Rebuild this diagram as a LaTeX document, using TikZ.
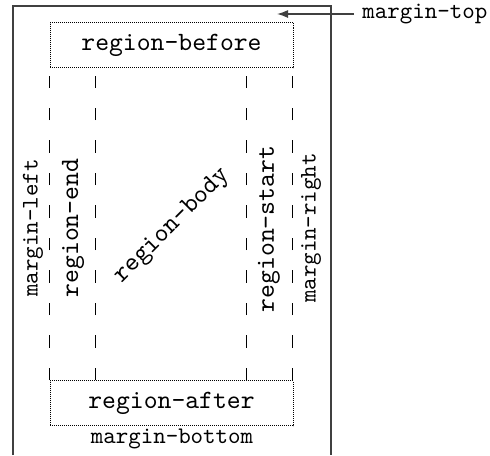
\documentclass[tikz,border=0pt]{standalone}
\usepackage{fontspec}
\setmonofont{lmmono10-regular.otf}
\usetikzlibrary{arrows.meta,calc}
\begin{document}
\begin{tikzpicture}[x=0.5pt,y=-0.5pt,
  regfont/.style={font=\fontsize{13.2}{15}\selectfont\ttfamily},
  marfont/.style={font=\fontsize{11.9}{14}\selectfont\ttfamily},
  regbox/.style={draw, line width=0.45pt, dash pattern=on 0.5pt off 0.5pt, minimum width=121.5pt, minimum height=22.5pt, inner sep=0pt, regfont},
  divider/.style={line width=0.5pt, dash pattern=on 6.25pt off 10pt},
  frame/.style={line width=0.6pt, draw=black!75},
  lbl/.style={inner sep=0pt}]
\useasboundingbox (0,0) rectangle (490,455);
% page frame
\coordinate (bl) at (13,455);
\coordinate (tl) at (13,6);
\coordinate (tr) at (331,6);
\coordinate (br) at (331,455);
\draw[frame] (bl) -- (tl) -- (tr) -- (br);
% regions
\node[regbox] (rb) at (171.5,45) {region-before};
\node[regbox] (ra) at (171.5,403) {region-after};
% dividers
\foreach \dx in {0,46,197,243} {
  \draw[divider] ($(ra.north west)+(\dx,0)$) -- ($(rb.south west)+(\dx,8)$);
}
% labels
\node[lbl, marfont, rotate=90] (ml) at (33,228) {margin-left};
\node[lbl, regfont, rotate=90] (re) at (73,228) {region-end};
\node[lbl, regfont, rotate=45] (rbody) at (172,226) {region-body};
\node[lbl, regfont, rotate=90] (rs) at (269,229) {region-start};
\node[lbl, marfont, rotate=90] (mr) at (311,228) {margin-right};
\node[lbl, marfont] (mb) at (172,439) {margin-bottom};
\node[lbl, marfont, anchor=west] (mt) at (362,14) {margin-top};
\coordinate (mtend) at (277,14);
\draw[frame, line width=0.7pt, -{Latex[length=5.5pt,width=4pt]}] ($(mt.west)+(-8,0)$) -- (mtend);
\end{tikzpicture}
\end{document}
